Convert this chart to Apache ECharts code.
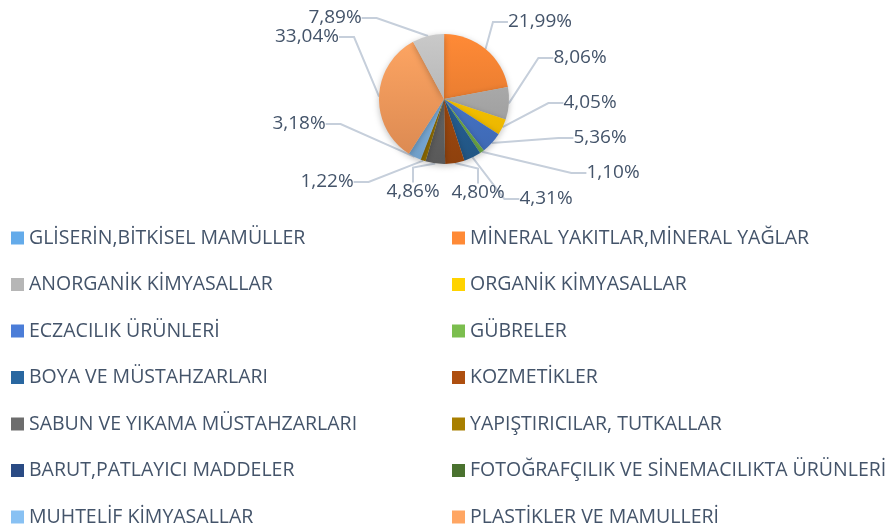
<!DOCTYPE html>
<html>
<head>
<meta charset="utf-8">
<script src="https://cdn.jsdelivr.net/npm/echarts@6/dist/echarts.min.js"></script>
<style>
  html, body { margin: 0; padding: 0; background: #fff; }
  #chart { width: 889px; height: 530px; }
</style>
</head>
<body>
<div id="chart"></div>
<script>
// kategori adları (grafik sırası, saat 12'den saat yönünde)
const categories = [
  'GLİSERİN,BİTKİSEL MAMÜLLER',
  'MİNERAL YAKITLAR,MİNERAL YAĞLAR',
  'ANORGANİK KİMYASALLAR',
  'ORGANİK KİMYASALLAR',
  'ECZACILIK ÜRÜNLERİ',
  'GÜBRELER',
  'BOYA VE MÜSTAHZARLARI',
  'KOZMETİKLER',
  'SABUN VE YIKAMA MÜSTAHZARLARI',
  'YAPIŞTIRICILAR, TUTKALLAR',
  'BARUT,PATLAYICI MADDELER',
  'FOTOĞRAFÇILIK VE SİNEMACILIKTA ÜRÜNLERİ',
  'MUHTELİF KİMYASALLAR',
  'PLASTİKLER VE MAMULLERİ',
  'DİĞER'
]
// pay (%)
const shares = [0.05, 21.99, 8.06, 4.05, 5.36, 1.10, 4.31, 4.80, 4.86, 1.22, 0.04, 0.05, 3.18, 33.04, 7.89]
// etiketi görünmeyen dilimler
const hiddenLabels = ['GLİSERİN,BİTKİSEL MAMÜLLER', 'BARUT,PATLAYICI MADDELER', 'FOTOĞRAFÇILIK VE SİNEMACILIKTA ÜRÜNLERİ']

const colors = ['#5B9BD5', '#ED7D31', '#A5A5A5', '#FFC000', '#4472C4', '#70AD47', '#255E91', '#9E480E',
  '#636363', '#997300', '#264478', '#43682B', '#7CAFDD', '#F1975A', '#B7B7B7']

// etiket merkezleri (px)
const labelPos = {
  1: [540, 22], 2: [580, 58], 3: [590, 103], 4: [600, 138], 5: [613, 173],
  6: [546, 199], 7: [478, 193], 8: [413, 192], 9: [327, 182],
  12: [299, 124], 13: [307, 37], 14: [335, 18]
}

function shade(hex, k) {
  const n = parseInt(hex.slice(1), 16)
  const f = c => Math.max(0, Math.min(255, Math.round(c * k)))
  return `rgb(${f(n >> 16)},${f((n >> 8) & 255)},${f(n & 255)})`
}
// Excel tarzı dikey geçiş (pastanın üstünden altına)
function grad(hex) {
  return new echarts.graphic.LinearGradient(0, 34, 0, 164, [
    { offset: 0, color: shade(hex, 1.1) },
    { offset: 1, color: shade(hex, 0.9) }
  ], true)
}

const txt = '#44546A'
const font = 'Open Sans'

const pieData = categories.map((name, i) => ({
  name,
  value: shares[i],
  itemStyle: { color: grad(colors[i]) },
  label: { show: !hiddenLabels.includes(name) },
  labelLine: { show: !hiddenLabels.includes(name) }
}))

const chart = echarts.init(document.getElementById('chart'))
const legendBase = {
  orient: 'vertical',
  top: 228,
  padding: 0,
  itemWidth: 13,
  itemHeight: 13,
  itemGap: 26.5,
  icon: 'rect',
  selectedMode: false,
  textStyle: { color: txt, fontSize: 19.5, fontFamily: font, lineHeight: 20 }
}
chart.setOption({
  color: colors,
  animation: false,
  legend: [
    Object.assign({}, legendBase, { left: 11, data: categories.filter((_, i) => i % 2 === 0 && i < 14) }),
    Object.assign({}, legendBase, { left: 452, data: categories.filter((_, i) => i % 2 === 1 && i < 14) })
  ],
  series: [{
    type: 'pie',
    center: [444, 99],
    radius: 65,
    startAngle: 90,
    clockwise: true,
    avoidLabelOverlap: false,
    data: pieData,
    itemStyle: { shadowBlur: 6, shadowColor: 'rgba(0,0,0,0.25)', shadowOffsetY: 2 },
    label: {
      color: txt,
      fontSize: 19,
      fontFamily: font,
      formatter: p => p.value.toFixed(2).replace('.', ',') + '%'
    },
    labelLine: { lineStyle: { color: '#C6CFDB', width: 2 }, length: 15, length2: 15 },
    labelLayout: p => {
      const pos = labelPos[p.dataIndex]
      if (!pos) return {}
      return { x: pos[0], y: pos[1], align: 'center', verticalAlign: 'middle' }
    }
  }]
})
</script>
</body>
</html>
